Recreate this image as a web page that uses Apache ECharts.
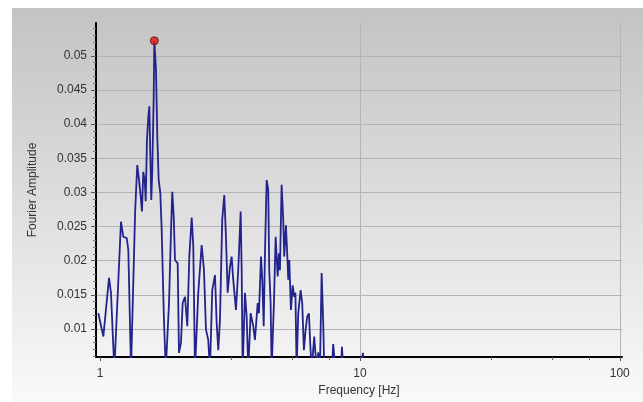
<!DOCTYPE html>
<html>
<head>
<meta charset="utf-8">
<script src="https://cdn.jsdelivr.net/npm/echarts@6/dist/echarts.min.js"></script>
<style>
html,body{margin:0;padding:0;background:#fff;}
#chart{width:643px;height:402px;}
</style>
</head>
<body>
<div id="chart"></div>
<script>
// Frequency [Hz] and Fourier amplitude
const freq = [0.985,1.030,1.083,1.102,1.135,1.204,1.229,1.267,1.285,1.316,
  1.365,1.391,1.413,1.434,1.450,1.467,1.486,1.499,1.516,1.534,
  1.548,1.561,1.575,1.589,1.609,1.618,1.642,1.661,1.682,1.706,
  1.727,1.760,1.790,1.843,1.876,1.897,1.921,1.943,1.990,2.013,
  2.049,2.080,2.123,2.167,2.206,2.253,2.285,2.320,2.388,2.461,
  2.512,2.557,2.609,2.649,2.703,2.769,2.811,2.851,2.894,2.953,
  3.007,3.052,3.099,3.162,3.210,3.256,3.335,3.403,3.477,3.508,
  3.539,3.612,3.667,3.719,3.798,3.887,3.946,4.043,4.090,4.163,
  4.211,4.264,4.312,4.377,4.439,4.479,4.534,4.575,4.669,4.740,
  4.826,4.882,4.924,4.998,5.070,5.115,5.193,5.271,5.300,5.349,
  5.428,5.511,5.589,5.648,5.708,5.790,5.914,5.999,6.089,6.183,
  6.271,6.366,6.440,6.520,6.672,6.816,6.913,7.019,7.125,7.226,
  7.291,7.804,7.893,7.977,8.049,8.452,8.528,8.641,10.09,10.27,
  10.41,15,25,40];
const amp = [0.0123,0.0089,0.0175,0.0153,0.0040,0.0257,0.0235,0.0233,0.0216,0.0040,
  0.0272,0.0340,0.0318,0.0294,0.0272,0.0330,0.0318,0.0287,0.0377,0.0411,
  0.0426,0.0357,0.0289,0.0333,0.0440,0.0522,0.0480,0.0382,0.0318,0.0299,
  0.0245,0.0120,0.0040,0.0138,0.0245,0.0301,0.0265,0.0201,0.0196,0.0065,
  0.0080,0.0138,0.0147,0.0104,0.0206,0.0263,0.0221,0.0040,0.0153,0.0223,
  0.0186,0.0099,0.0084,0.0040,0.0157,0.0179,0.0109,0.0069,0.0113,0.0260,
  0.0296,0.0235,0.0153,0.0191,0.0206,0.0172,0.0128,0.0186,0.0272,0.0186,
  0.0040,0.0153,0.0118,0.0040,0.0123,0.0104,0.0084,0.0138,0.0123,0.0206,
  0.0172,0.0104,0.0211,0.0318,0.0304,0.0186,0.0138,0.0040,0.0138,0.0235,
  0.0177,0.0211,0.0186,0.0311,0.0260,0.0206,0.0252,0.0197,0.0172,0.0201,
  0.0128,0.0164,0.0147,0.0153,0.0040,0.0123,0.0157,0.0138,0.0069,0.0099,
  0.0118,0.0123,0.0079,0.0040,0.0089,0.0040,0.0066,0.0040,0.0182,0.0109,
  0.0040,0.0040,0.0078,0.0078,0.0040,0.0040,0.0074,0.0040,0.0040,0.0065,
  0.0040,0.0030,0.0020,0.0015];
const peakFreq = 1.618;
const peakAmp = 0.0522;
const xLabels = [1, 10, 100];
const xMinorTicks = [3.2, 5.5, 7.6, 32, 55, 76];
const yLabels = [0.01, 0.015, 0.02, 0.025, 0.03, 0.035, 0.04, 0.045, 0.05];
const yMinorTicks = [0.006,0.007,0.008,0.009,0.011,0.012,0.013,0.014,0.016,0.017,0.018,0.019,
  0.021,0.022,0.023,0.024,0.026,0.027,0.028,0.029,0.031,0.032,0.033,0.034,
  0.036,0.037,0.038,0.039,0.041,0.042,0.043,0.044,0.046,0.047,0.048,0.049,
  0.051,0.052,0.053,0.054];

const xMin = 0.965, xMax = 102, yMin = 0.0059, yMax = 0.0548;
const font = 'Liberation Sans, Arial, sans-serif';

const chart = echarts.init(document.getElementById('chart'), null, {renderer: 'canvas'});
chart.setOption({
  animation: false,
  backgroundColor: '#ffffff',
  graphic: [{
    type: 'rect', z: -100, silent: true,
    shape: {x: 12, y: 8, width: 631, height: 394},
    style: {fill: {type: 'linear', x: 0, y: 0, x2: 0, y2: 1,
      colorStops: [{offset: 0, color: '#c3c3c3'}, {offset: 0.5, color: '#dedede'}, {offset: 1, color: '#f9f9f9'}]}}
  }],
  grid: {left: 96, right: 21, top: 23, bottom: 45, containLabel: false},
  xAxis: [{
    type: 'log', logBase: 10, min: xMin, max: xMax,
    name: 'Frequency [Hz]', nameLocation: 'middle', nameGap: 26,
    nameTextStyle: {fontFamily: font, fontSize: 12, color: '#333'},
    axisLine: {show: true, onZero: false, lineStyle: {color: '#000', width: 2}},
    axisTick: {show: true, length: 4, customValues: xLabels, lineStyle: {color: '#555'}},
    axisLabel: {customValues: xLabels, margin: 11, fontFamily: font, fontSize: 12, color: '#333',
      formatter: v => String(Math.round(v))},
    splitLine: {show: true, lineStyle: {color: ['transparent', '#b4b4b4', '#b4b4b4'], width: 1}}
  }, {
    type: 'log', logBase: 10, min: xMin, max: xMax, position: 'bottom',
    axisLine: {show: false},
    axisTick: {show: true, length: 3, customValues: xMinorTicks, lineStyle: {color: '#666'}},
    axisLabel: {show: false},
    splitLine: {show: false}
  }],
  yAxis: [{
    type: 'value', min: yMin, max: yMax,
    name: 'Fourier Amplitude', nameLocation: 'middle', nameGap: 57,
    nameTextStyle: {fontFamily: font, fontSize: 12, color: '#333'},
    axisLine: {show: true, onZero: false, lineStyle: {color: '#000', width: 2}},
    axisTick: {show: true, length: 5, customValues: yLabels, lineStyle: {color: '#555'}},
    axisLabel: {customValues: yLabels, margin: 9, fontFamily: font, fontSize: 12, color: '#333',
      formatter: v => String(+v.toFixed(3))},
    splitLine: {show: true, lineStyle: {color: '#b4b4b4', width: 1}}
  }, {
    type: 'value', min: yMin, max: yMax, position: 'left',
    axisLine: {show: false},
    axisTick: {show: true, length: 3, customValues: yMinorTicks, lineStyle: {color: '#777'}},
    axisLabel: {show: false},
    splitLine: {show: false}
  }],
  series: [{
    type: 'line', xAxisIndex: 0, yAxisIndex: 0,
    data: freq.map((f, i) => [f, amp[i]]),
    showSymbol: false, clip: true,
    lineStyle: {color: '#23238c', width: 1.8},
    z: 5
  }, {
    type: 'scatter', xAxisIndex: 0, yAxisIndex: 0,
    data: [[peakFreq, peakAmp]],
    symbolSize: 8,
    itemStyle: {color: '#e01414', borderColor: '#5a0a0a', borderWidth: 1},
    z: 6
  }]
});
</script>
</body>
</html>
